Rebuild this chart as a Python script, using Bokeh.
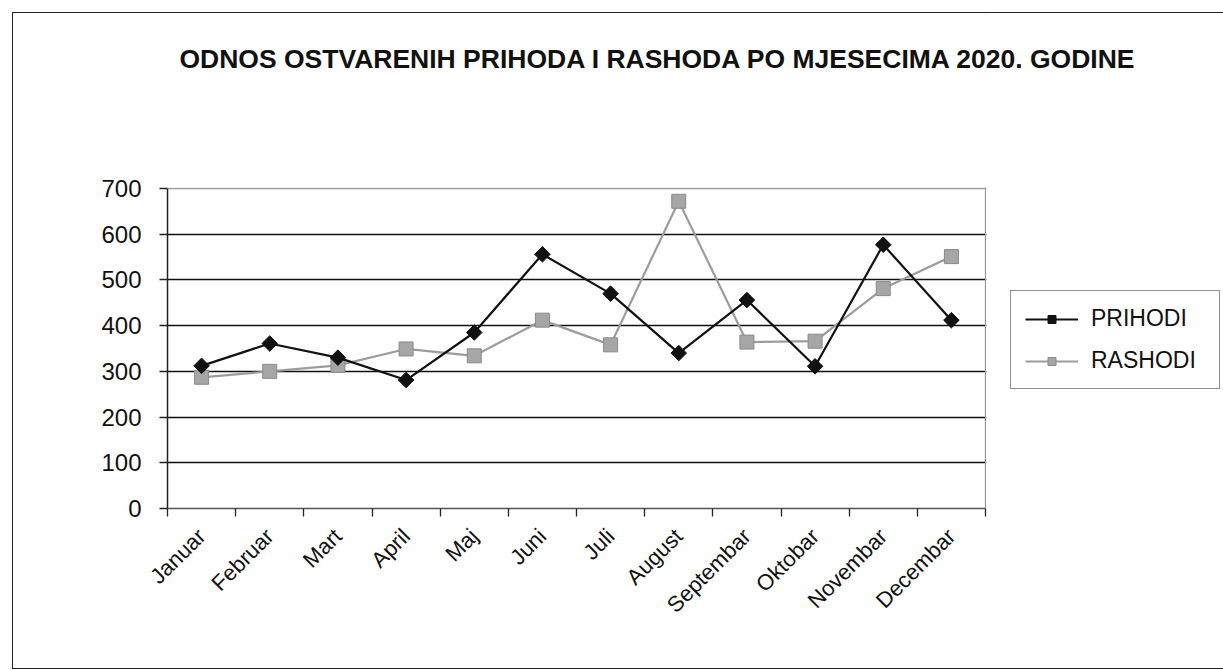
from bokeh.plotting import figure
from bokeh.models import (Range1d, FixedTicker, Legend, LegendItem, Label, Grid,
                          BoxAnnotation)
from bokeh.embed import file_html
from bokeh.resources import INLINE

months = ["Januar", "Februar", "Mart", "April", "Maj", "Juni", "Juli",
          "August", "Septembar", "Oktobar", "Novembar", "Decembar"]
prihodi = [312, 361, 330, 281, 385, 556, 470, 340, 456, 311, 577, 412]
rashodi = [287, 300, 313, 349, 334, 412, 358, 672, 364, 366, 481, 551]
y_ticks = [0, 100, 200, 300, 400, 500, 600, 700]
title_text = "ODNOS OSTVARENIH  PRIHODA I RASHODA  PO MJESECIMA  2020. GODINE"

FONT = "Liberation Sans"

n = len(months)
xs = [i + 0.5 for i in range(n)]
y_max = y_ticks[-1]

# layout (pixels)
W, H = 1211, 657
LEFT, BOTTOM = 154, 162
PLOT_W, PLOT_H = 818, 320          # visible plot area
frame_w, frame_h = W - LEFT, H - BOTTOM

p = figure(width=W, height=H, output_backend="svg", toolbar_location=None,
           x_range=Range1d(0, n * frame_w / PLOT_W),
           y_range=Range1d(0, y_max * frame_h / PLOT_H),
           min_border_left=LEFT, min_border_right=0, min_border_top=0,
           min_border_bottom=BOTTOM)
p.margin = (12, 0, 0, 12)
p.styles = {"border-left": "1.5px solid #222", "border-top": "1.5px solid #222",
            "border-bottom": "1.5px solid #222"}

p.outline_line_color = None
p.background_fill_color = "white"
p.border_fill_color = "white"

# x axis
p.xaxis.bounds = (0, n)
p.xaxis.ticker = FixedTicker(ticks=xs, minor_ticks=list(range(n + 1)))
p.xaxis.major_label_overrides = {x: m for x, m in zip(xs, months)}
p.xaxis.major_label_orientation = 0.785398
p.xaxis.major_tick_in = 0
p.xaxis.major_tick_out = 0
p.xaxis.minor_tick_in = 0
p.xaxis.minor_tick_out = 8
p.xaxis.minor_tick_line_color = "#222222"
p.xaxis.minor_tick_line_width = 1.3
p.xaxis.axis_line_color = "#555555"
p.xaxis.axis_line_width = 1.5
p.xaxis.major_label_text_font = FONT
p.xaxis.major_label_text_font_size = "22px"
p.xaxis.major_label_text_color = "#111111"
p.xaxis.major_label_standoff = 16

# y axis
p.yaxis.bounds = (0, y_max)
p.yaxis.ticker = FixedTicker(ticks=y_ticks)
p.yaxis.minor_tick_line_color = None
p.yaxis.major_tick_in = 0
p.yaxis.major_tick_out = 8
p.yaxis.major_tick_line_color = "#222222"
p.yaxis.major_tick_line_width = 1.3
p.yaxis.axis_line_color = "#222222"
p.yaxis.axis_line_width = 1.5
p.yaxis.major_label_text_font = FONT
p.yaxis.major_label_text_font_size = "24px"
p.yaxis.major_label_text_color = "#111111"
p.yaxis.major_label_standoff = 18

# grid lines
p.xgrid.grid_line_color = None
p.ygrid.ticker = FixedTicker(ticks=y_ticks[1:-1])
p.ygrid.grid_line_color = "#111111"
p.ygrid.grid_line_width = 1.4
# plot-area border (top and right), light grey
p.add_layout(Grid(dimension=1, ticker=FixedTicker(ticks=[y_max]),
                  grid_line_color="#9a9a9a", grid_line_width=1.3))
p.add_layout(Grid(dimension=0, ticker=FixedTicker(ticks=[n]),
                  grid_line_color="#9a9a9a", grid_line_width=1.3))

# series
r_line = p.line(xs, rashodi, line_color="#9c9c9c", line_width=2.2)
r_pts = p.scatter(xs, rashodi, marker="square", size=14, fill_color="#a6a6a6",
                  line_color="#8a8a8a", line_width=1)
p_line = p.line(xs, prihodi, line_color="#111111", line_width=2.2)
p_pts = p.scatter(xs, prihodi, marker="square", angle=0.785398, size=11,
                  fill_color="#111111", line_color="#111111")

# white masks: keep grid lines inside the plot area only
p.add_layout(BoxAnnotation(left=n + 0.012, fill_color="white", fill_alpha=1,
                           line_color=None))
p.add_layout(BoxAnnotation(bottom=y_max + 2, fill_color="white", fill_alpha=1,
                           line_color=None))

legend = Legend(items=[LegendItem(label="PRIHODI", renderers=[p_line, p_pts]),
                       LegendItem(label="RASHODI", renderers=[r_line, r_pts])],
                location=(843, 119))
legend.border_line_color = "#222222"
legend.border_line_width = 1.2
legend.label_text_font = FONT
legend.label_text_font_size = "23px"
legend.label_text_color = "#111111"
legend.glyph_width = 53
legend.label_standoff = 13
legend.label_width = 114
legend.spacing = 15
legend.padding = 14
legend.margin = 0
p.add_layout(legend, "center")

title = Label(x=502, y=450, x_units="screen", y_units="screen", text=title_text,
              text_align="center", text_baseline="middle",
              text_font=FONT, text_font_style="bold",
              text_font_size="26.5px", text_color="#111111")
p.add_layout(title)

open("out.html", "w").write(file_html(p, INLINE))
